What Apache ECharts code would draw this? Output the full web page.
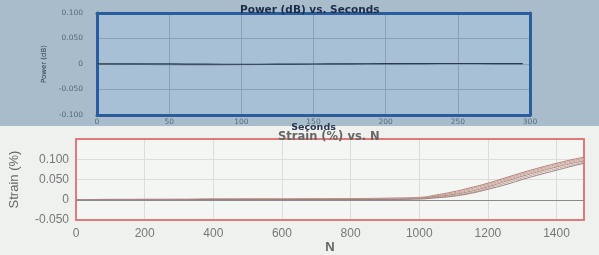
<!DOCTYPE html>
<html><head><meta charset="utf-8">
<script src="https://cdn.jsdelivr.net/npm/echarts@6/dist/echarts.min.js"></script>
<style>html,body{margin:0;padding:0;}#c{width:599px;height:255px;}</style>
</head><body><div id="c"></div>
<script>
// Top chart: Power (dB) vs. Seconds
const seconds = [0,25,50,75,100,125,150,175,200,225,250,275,295];
const powerA = [0.0004,0.0003,0.0001,-0.0003,-0.0005,-0.0003,0.0000,0.0003,0.0006,0.0008,0.0010,0.0009,0.0008];
const powerB = [-0.0004,-0.0008,-0.0015,-0.0018,-0.0014,-0.0008,-0.0004,0.0000,0.0003,0.0005,0.0006,0.0006,0.0005];
const secTicks = [0,50,100,150,200,250,300];
const powerTicks = [-0.1,-0.05,0,0.05,0.1];

// Bottom chart: Strain (%) vs. N
const N = [0,100,200,300,400,500,600,700,800,900,1000,1050,1100,1150,1200,1250,1300,1350,1400,1450,1480];
const strain1 = [0.000,0.001,0.001,0.001,0.002,0.002,0.002,0.002,0.003,0.004,0.006,0.012,0.020,0.030,0.041,0.054,0.067,0.079,0.090,0.100,0.105];
const strain2 = [0.000,0.001,0.001,0.001,0.001,0.002,0.002,0.002,0.002,0.003,0.005,0.010,0.017,0.027,0.038,0.051,0.064,0.076,0.087,0.097,0.102];
const strain3 = [0.000,0.000,0.001,0.001,0.001,0.001,0.002,0.002,0.002,0.003,0.004,0.009,0.015,0.024,0.035,0.048,0.061,0.073,0.084,0.094,0.099];
const strain4 = [0.000,0.000,0.001,0.001,0.001,0.001,0.001,0.002,0.002,0.002,0.004,0.008,0.013,0.021,0.032,0.045,0.058,0.070,0.081,0.091,0.096];
const strain5 = [0.000,0.000,0.000,0.001,0.001,0.001,0.001,0.001,0.001,0.002,0.003,0.006,0.011,0.018,0.029,0.041,0.054,0.066,0.077,0.087,0.093];
const strain6 = [0.000,0.000,0.000,0.000,0.001,0.001,0.001,0.001,0.001,0.001,0.002,0.005,0.009,0.016,0.026,0.037,0.050,0.062,0.073,0.084,0.090];
const strainSeries = [strain1,strain2,strain3,strain4,strain5,strain6];
const strainColors = ['#b07a78','#c99a96','#d4aa8c','#a88886','#c8a4a4','#9c7c78'];
const nTicks = [0,200,400,600,800,1000,1200,1400];
const strainTicks = [-0.05,0,0.05,0.1];

function pairs(xs, ys){ return xs.map((x,i)=>[x,ys[i]]); }
function fmt3(v){ if (Math.abs(v) < 1e-9) return '0'; return v.toFixed(3); }

const chart = echarts.init(document.getElementById('c'), null, {renderer:'canvas'});
const series = [
  {type:'line', xAxisIndex:0, yAxisIndex:0, data:pairs(seconds,powerB), showSymbol:false, smooth:true,
   lineStyle:{color:'#6e8298', width:1}, silent:true},
  {type:'line', xAxisIndex:0, yAxisIndex:0, data:pairs(seconds,powerA), showSymbol:false, smooth:true,
   lineStyle:{color:'#2c3a50', width:1.2}, silent:true}
];
strainSeries.forEach((s,i)=>{
  series.push({type:'line', xAxisIndex:1, yAxisIndex:1, data:pairs(N,s), showSymbol:false, smooth:true,
    lineStyle:{color:strainColors[i], width:1}, silent:true,
    markLine: i===0 ? {silent:true, symbol:'none', label:{show:false},
      lineStyle:{color:'#8a8a8a', type:'solid', width:1}, data:[{yAxis:0}]} : undefined});
});

function frameAxis(gridIndex, pos, min, max, color, width){
  return {type:'value', gridIndex:gridIndex, position:pos, min:min, max:max,
    axisLine:{show:true, onZero:false, lineStyle:{color:color, width:width}},
    axisTick:{show:false}, axisLabel:{show:false}, splitLine:{show:false}};
}
const blue = '#2b5c9c', red = '#e07a7a';

chart.setOption({
  animation:false,
  backgroundColor:'#eef1ee',
  graphic:[
    {type:'rect', shape:{x:0,y:0,width:599,height:126}, style:{fill:'#a9bccb'}, z:-10, silent:true}
  ],
  title:[
    {text:'Power (dB) vs. Seconds', left:235, top:0,
     textStyle:{fontFamily:'DejaVu Sans', fontSize:10.5, fontWeight:'bold', color:'#1c2c48'}},
    {text:'Strain (%) vs. N', left:273, top:126,
     textStyle:{fontFamily:'DejaVu Sans', fontSize:11.5, fontWeight:'bold', color:'#666'}}
  ],
  grid:[
    {left:97, top:13, width:433, height:102, show:true, backgroundColor:'#a8c0d6', borderWidth:0},
    {left:73, top:139, width:511, height:91, show:true, backgroundColor:'#f4f6f4', borderWidth:0}
  ],
  xAxis:[
    {type:'value', gridIndex:0, min:secTicks[0], max:secTicks[secTicks.length-1], interval:50,
     name:'Seconds', nameLocation:'middle', nameGap:8, nameMoveOverlap:false,
     nameTextStyle:{fontFamily:'DejaVu Sans', fontSize:9.5, fontWeight:'bold', color:'#2a3850'},
     axisLine:{show:true, onZero:false, lineStyle:{color:blue, width:3}}, axisTick:{show:false},
     axisLabel:{fontFamily:'DejaVu Sans', fontSize:7.5, color:'#56687c', margin:3},
     splitLine:{show:true, lineStyle:{color:'#8aa0b6', width:1}}},
    {type:'value', gridIndex:1, min:nTicks[0], max:1480, interval:200,
     name:'N', nameLocation:'middle', nameGap:17,
     nameTextStyle:{fontFamily:'Liberation Sans', fontSize:13, fontWeight:'bold', color:'#666'},
     axisLine:{show:true, onZero:false, lineStyle:{color:red, width:2}}, axisTick:{show:false},
     axisLabel:{fontFamily:'Liberation Sans', fontSize:12, color:'#777', margin:8,
       formatter:function(v){ return nTicks.indexOf(v) >= 0 ? String(v) : ''; }},
     splitLine:{show:true, lineStyle:{color:'#dcdcdc', width:1}}},
    frameAxis(0, 'top', 0, 300, blue, 3),
    frameAxis(1, 'top', 0, 1480, red, 2)
  ],
  yAxis:[
    {type:'value', gridIndex:0, min:powerTicks[0], max:powerTicks[powerTicks.length-1], interval:0.05,
     name:'Power (dB)', nameLocation:'middle', nameGap:46, nameRotate:90,
     nameTextStyle:{fontFamily:'DejaVu Sans', fontSize:7, color:'#2a3850'},
     axisLine:{show:true, onZero:false, lineStyle:{color:blue, width:3}}, axisTick:{show:false},
     axisLabel:{fontFamily:'DejaVu Sans', fontSize:7.5, color:'#56687c', margin:14, formatter:fmt3},
     splitLine:{show:true, lineStyle:{color:'#8aa0b6', width:1}}},
    {type:'value', gridIndex:1, min:strainTicks[0], max:0.15, interval:0.05,
     name:'Strain (%)', nameLocation:'middle', nameGap:55, nameRotate:90,
     nameTextStyle:{fontFamily:'Liberation Sans', fontSize:13, color:'#666'},
     axisLine:{show:true, onZero:false, lineStyle:{color:red, width:2}}, axisTick:{show:false},
     axisLabel:{fontFamily:'Liberation Sans', fontSize:12, color:'#777', margin:7,
       formatter:function(v){ return v > 0.12 ? '' : fmt3(v); }},
     splitLine:{show:true, lineStyle:{color:'#dcdcdc', width:1}}},
    frameAxis(0, 'right', -0.1, 0.1, blue, 3),
    frameAxis(1, 'right', -0.05, 0.15, red, 2)
  ],
  series:series
});
</script></body></html>
